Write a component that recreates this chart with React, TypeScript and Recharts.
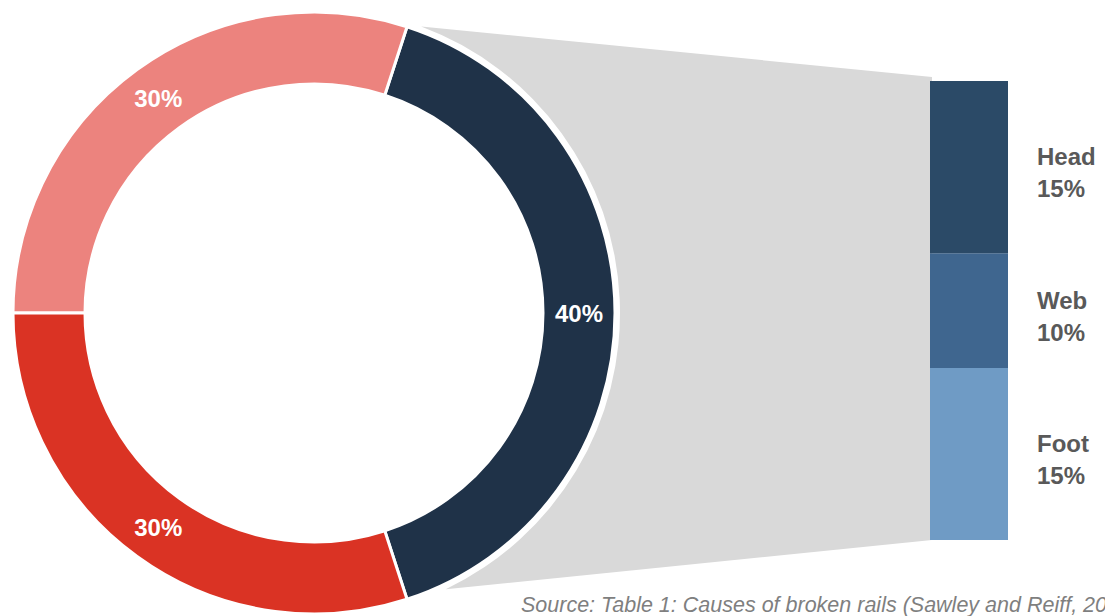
import { Bar, BarChart, Cell, LabelList, Pie, PieChart, XAxis, YAxis } from "recharts";

const W = 1105;
const H = 616;
const FONT = "'Liberation Sans', Arial, sans-serif";

// donut: causes of broken rails
const CAUSE_NAMES = ["Rail defects", "Cause B", "Cause C"];
const CAUSE_VALUES = [40, 30, 30];
const CAUSE_COLORS = ["#1f3248", "#ec837e", "#da3324"];

// breakdown of the 40% slice
const PART_NAMES = ["Head", "Web", "Foot"];
const PART_VALUES = [15, 10, 15];
const PART_COLORS = ["#2b4a67", "#3f668f", "#6f9bc5"];

const SOURCE_TEXT = "Source: Table 1: Causes of broken rails (Sawley and Reiff, 2000)";

// layout
const CX = 314;
const CY = 313;
const INNER_R = 229;
const OUTER_R = 301;
const BAR_LEFT = 930;
const BAR_W = 78;
const BAR_TOP = 81;
const BAR_BOTTOM = 540;

const donutData = CAUSE_NAMES.map((name, i) => ({ name, value: CAUSE_VALUES[i] }));
const partRow: Record<string, string | number> = { name: "Rail" };
PART_NAMES.forEach((n, i) => {
  partRow[n] = PART_VALUES[i];
});
const partTotal = PART_VALUES.reduce((a, b) => a + b, 0);

const RAD = Math.PI / 180;

function DonutLabel(props: any) {
  const { cx, cy, midAngle, innerRadius, outerRadius, value } = props;
  const r = (innerRadius + outerRadius) / 2;
  const x = cx + r * Math.cos(-midAngle * RAD);
  const y = cy + r * Math.sin(-midAngle * RAD);
  return (
    <text
      x={x}
      y={y}
      fill="#ffffff"
      textAnchor="middle"
      dominantBaseline="central"
      fontFamily={FONT}
      fontWeight="bold"
      fontSize={24}
    >
      {`${value}%`}
    </text>
  );
}

function partLabel(name: string) {
  return (props: any) => {
    const { x, y, width, height, value } = props;
    const cy = Number(y) + Number(height) / 2;
    const lx = Number(x) + Number(width) + 29;
    return (
      <text fontFamily={FONT} fontWeight="bold" fontSize={24} fill="#595959">
        <tspan x={lx} y={cy - 2}>
          {name}
        </tspan>
        <tspan x={lx} y={cy + 30}>
          {`${value}%`}
        </tspan>
      </text>
    );
  };
}

function Connector() {
  const gapR = OUTER_R + 5;
  const a1 = 69.5 * RAD;
  const a2 = -64.5 * RAD;
  const tx = CX + gapR * Math.cos(a1);
  const ty = CY - gapR * Math.sin(a1);
  const bx = CX + gapR * Math.cos(a2);
  const by = CY - gapR * Math.sin(a2);
  const d = `M ${tx} ${ty} L ${BAR_LEFT + 2} ${BAR_TOP - 4} L ${BAR_LEFT + 2} ${BAR_BOTTOM} L ${bx} ${by} A ${gapR} ${gapR} 0 0 0 ${tx} ${ty} Z`;
  return (
    <svg width={W} height={H} style={{ position: "absolute", left: 0, top: 0 }}>
      <path d={d} fill="#d9d9d9" />
      <text x={521} y={612} fontFamily={FONT} fontStyle="italic" fontSize={21.5} fill="#7f7f7f">
        {SOURCE_TEXT}
      </text>
    </svg>
  );
}

export default function App() {
  return (
    <div
      style={{
        position: "fixed",
        left: 0,
        top: 0,
        width: W,
        height: H,
        overflow: "hidden",
        background: "#ffffff",
      }}
    >
      <Connector />
      <div style={{ position: "absolute", left: 0, top: 0 }}>
        <BarChart
          width={W}
          height={H}
          data={[partRow]}
          barCategoryGap={0}
          margin={{ top: BAR_TOP, bottom: H - BAR_BOTTOM, left: BAR_LEFT, right: W - BAR_LEFT - BAR_W }}
        >
          <XAxis dataKey="name" hide />
          <YAxis hide domain={[0, partTotal]} />
          {[...PART_NAMES].reverse().map((n) => (
            <Bar
              key={n}
              dataKey={n}
              stackId="parts"
              fill={PART_COLORS[PART_NAMES.indexOf(n)]}
              isAnimationActive={false}
            >
              <LabelList dataKey={n} content={partLabel(n)} />
            </Bar>
          ))}
        </BarChart>
      </div>
      <div style={{ position: "absolute", left: 0, top: 0 }}>
        <PieChart width={W} height={H} margin={{ top: 0, right: 0, bottom: 0, left: 0 }}>
          <Pie
            data={donutData}
            dataKey="value"
            nameKey="name"
            cx={CX}
            cy={CY}
            innerRadius={INNER_R}
            outerRadius={OUTER_R}
            startAngle={-72}
            endAngle={288}
            stroke="#ffffff"
            strokeWidth={3}
            label={DonutLabel}
            labelLine={false}
            isAnimationActive={false}
          >
            {donutData.map((d, i) => (
              <Cell key={d.name} fill={CAUSE_COLORS[i]} />
            ))}
          </Pie>
        </PieChart>
      </div>
    </div>
  );
}
